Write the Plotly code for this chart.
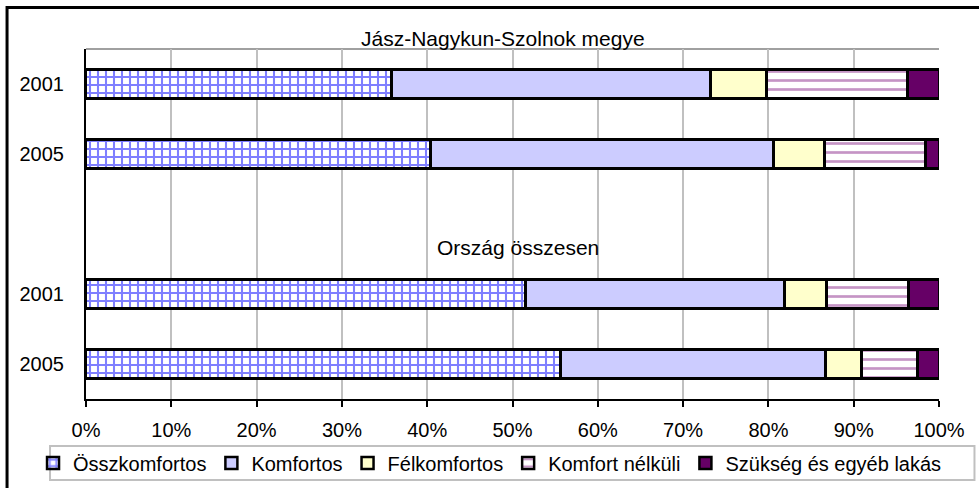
import plotly.graph_objects as go

# row keys (top to bottom), the blank row separates the two groups
row_keys = ["JNSz 2001", "JNSz 2005", "gap", "Ország 2001", "Ország 2005"]
row_labels = ["2001", "2005", "", "2001", "2005"]
group_titles = ["Jász-Nagykun-Szolnok megye", "Ország összesen"]

series_names = ["Összkomfortos", "Komfortos", "Félkomfortos",
                "Komfort nélküli", "Szükség és egyéb lakás"]

# shares in % : JNSz 2001, JNSz 2005, Ország 2001, Ország 2005
osszkomfortos = [35.8, 40.4, 51.5, 55.6]
komfortos = [37.4, 40.2, 30.4, 31.1]
felkomfortos = [6.6, 6.0, 4.9, 4.2]
komfort_nelkuli = [16.5, 11.8, 9.6, 6.6]
szukseg = [3.7, 1.6, 3.6, 2.5]

W, H = 979, 488
L, R, T, B = 86, 39.5, 48.5, 89
PW, PH = W - L - R, H - T - B


def px(x):
    return (x - L) / PW


def py(y):
    return (H - B - y) / PH


styles = [
    dict(color="white", pattern=dict(shape="+", fgcolor="#0000FF", bgcolor="white", size=8, solidity=0.45)),
    dict(color="#CCCCFF"),
    dict(color="#FFFFCC"),
    dict(color="white", pattern=dict(shape="-", fgcolor="#8B2A8B", bgcolor="white", size=9, solidity=0.3)),
    dict(color="#660066"),
]

fig = go.Figure()
for name, vals, st in zip(series_names,
                          [osszkomfortos, komfortos, felkomfortos, komfort_nelkuli, szukseg],
                          styles):
    xs = vals[:2] + [None] + vals[2:]
    fig.add_trace(go.Bar(
        y=row_keys, x=xs, name=name, orientation="h",
        marker=dict(line=dict(color="black", width=2.5), **st),
    ))

fig.update_layout(
    barmode="stack",
    bargap=0.59,
    width=W, height=H,
    margin=dict(l=L, r=R, t=T, b=B, autoexpand=False),
    paper_bgcolor="white", plot_bgcolor="white",
    font=dict(family="Arial, Liberation Sans, sans-serif", size=20, color="black"),
    showlegend=True,
    legend=dict(orientation="h", x=px(33), xanchor="left",
                y=py(463), yanchor="middle",
                bgcolor="rgba(0,0,0,0)", borderwidth=0, traceorder="normal",
                font=dict(size=20), itemwidth=30, tracegroupgap=0),
)

fig.update_xaxes(
    range=[0, 100], dtick=10, ticksuffix="%",
    showgrid=True, gridcolor="#C0C0C0", gridwidth=2,
    showline=True, linecolor="black", linewidth=2,
    ticks="outside", ticklen=6, tickwidth=2, tickcolor="black",
    ticklabelstandoff=6, zeroline=False, fixedrange=True,
)
fig.update_yaxes(
    type="category", categoryorder="array", categoryarray=row_keys,
    tickmode="array", tickvals=row_keys, ticktext=row_labels,
    autorange="reversed",
    showgrid=False, showline=True, linecolor="black", linewidth=2,
    ticks="", ticklabelstandoff=16, zeroline=False,
)

# gray top border of the plot area
fig.add_shape(type="line", xref="paper", yref="paper", x0=0, x1=1, y0=1, y1=1,
              line=dict(color="#A0A0A0", width=2), layer="below")
# outer chart border
fig.add_shape(type="rect", xref="paper", yref="paper",
              x0=px(7), y0=py(500), x1=px(990), y1=py(7),
              line=dict(color="black", width=3))
# legend box
fig.add_shape(type="rect", xref="paper", yref="paper",
              x0=px(50), y0=py(480), x1=px(975), y1=py(446),
              line=dict(color="#C0C0C0", width=2))

fig.add_annotation(text=group_titles[0], xref="paper", yref="paper",
                   x=px(503), y=py(38), showarrow=False, xanchor="center", yanchor="middle",
                   font=dict(size=21))
fig.add_annotation(text=group_titles[1], xref="paper", yref="paper",
                   x=px(518), y=py(247), showarrow=False, xanchor="center", yanchor="middle",
                   font=dict(size=21))

fig.write_html("out.html", config={"displayModeBar": False},
               post_script="document.body.style.margin='0px';")
